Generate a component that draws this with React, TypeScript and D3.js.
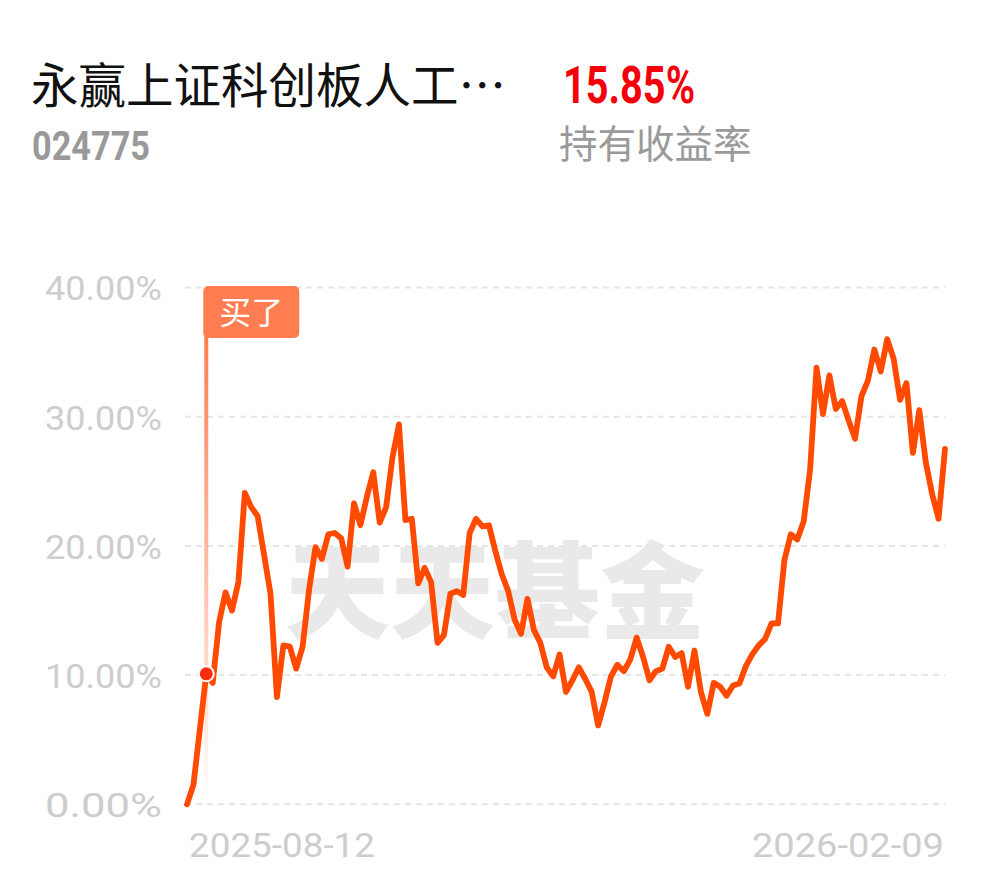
import React from "react";
import * as d3 from "d3";

const fundName = "永赢上证科创板人工…";
const fundCode = "024775";
const holdReturn = "15.85%";
const holdReturnLabel = "持有收益率";
const buyLabel = "买了";
const watermark = "天天基金";

const xTickLabels = ["2025-08-12", "2026-02-09"];
const yTicks = [0, 10, 20, 30, 40];

// daily holding return (%) — trading days from 2025-08-12 to 2026-02-09
const returns = [
  0.0, 1.5, 5.8, 10.1, 9.4, 14.1, 16.4, 15.0, 17.2, 24.1,
  23.0, 22.3, 19.3, 16.3, 8.3, 12.3, 12.2, 10.5, 12.2, 16.6,
  19.9, 19.0, 20.9, 21.0, 20.6, 18.4, 23.3, 21.6, 23.8, 25.7,
  21.8, 23.0, 26.9, 29.4, 22.0, 22.1, 17.1, 18.3, 17.2, 12.5,
  13.1, 16.3, 16.5, 16.2, 21.0, 22.1, 21.5, 21.6, 19.6, 17.8,
  16.5, 14.3, 13.2, 15.9, 13.5, 12.5, 10.6, 9.9, 11.6, 8.7,
  9.6, 10.6, 9.7, 8.7, 6.1, 7.9, 9.9, 10.8, 10.3, 11.2,
  12.9, 11.4, 9.6, 10.3, 10.5, 12.2, 11.4, 11.7, 9.1, 11.9,
  8.7, 7.0, 9.4, 9.1, 8.4, 9.2, 9.35, 10.7, 11.6, 12.3,
  12.8, 14.0, 14.0, 18.9, 20.9, 20.5, 21.9, 25.9, 33.8, 30.2,
  33.2, 30.6, 31.2, 29.7, 28.3, 31.6, 32.8, 35.2, 33.5, 36.0,
  34.5, 31.3, 32.6, 27.2, 30.5, 26.5, 24.0, 22.1, 27.5,
];
const buyIndex = 3;

export default function App() {
  const W = 990;
  const H = 878;
  const x0 = 187;
  const x1 = 945;
  const x = d3.scaleLinear().domain([0, returns.length - 1]).range([x0, x1]);
  const y = d3.scaleLinear().domain([0, 40]).range([804.3, 287.5]);

  const line = d3
    .line<number>()
    .x((_, i) => x(i))
    .y((d) => y(d))
    .curve(d3.curveLinear);

  const bx = x(buyIndex);
  const by = y(returns[buyIndex]);
  const labelTop = 286;
  const labelH = 52;

  return (
    <svg
      width={W}
      height={H}
      style={{ position: "absolute", left: 0, top: 0, background: "#fff" }}
    >
      <defs>
        <linearGradient id="buyGrad" x1="0" y1="0" x2="0" y2="1">
          <stop offset="0%" stopColor="#ff7d4f" stopOpacity={1} />
          <stop offset="100%" stopColor="#ff7d4f" stopOpacity={0.02} />
        </linearGradient>
      </defs>

      {/* header */}
      <text
        x={31}
        y={103}
        fontFamily="'Noto Sans CJK SC', sans-serif"
        fontSize={47.5}
        fill="#111"
      >
        {fundName}
      </text>
      <text
        x={32}
        y={160}
        fontFamily="Roboto, sans-serif"
        fontWeight={700}
        fontSize={40}
        fill="#999"
        textLength={118}
        lengthAdjust="spacingAndGlyphs"
      >
        {fundCode}
      </text>
      <text
        x={563}
        y={103.3}
        fontFamily="Roboto, sans-serif"
        fontWeight={700}
        fontSize={51}
        fill="#f4000a"
        textLength={132}
        lengthAdjust="spacingAndGlyphs"
      >
        {holdReturn}
      </text>
      <text
        x={559}
        y={158}
        fontFamily="'Noto Sans CJK SC', sans-serif"
        fontSize={38.5}
        fill="#9a9a9a"
      >
        {holdReturnLabel}
      </text>

      {/* watermark */}
      <text
        x={495}
        y={630}
        textAnchor="middle"
        fontFamily="'Noto Sans CJK SC', sans-serif"
        fontWeight={900}
        fontSize={105}
        fill="#e9e9e9"
      >
        {watermark}
      </text>

      {/* grid + y labels */}
      {yTicks.map((t) => (
        <g key={t}>
          <line
            x1={185}
            x2={945}
            y1={y(t)}
            y2={y(t)}
            stroke="#e6e6e6"
            strokeWidth={2}
            strokeDasharray="6 5"
          />
          <text
            x={162}
            y={y(t) + 12.8}
            textAnchor="end"
            fontFamily="Roboto, sans-serif"
            fontSize={33}
            fill="#cdcdcd"
            textLength={117}
            lengthAdjust="spacingAndGlyphs"
          >
            {t.toFixed(2) + "%"}
          </text>
        </g>
      ))}

      {/* x labels */}
      <text
        x={189}
        y={857}
        fontFamily="Roboto, sans-serif"
        fontSize={34}
        fill="#cdcdcd"
        textLength={186}
        lengthAdjust="spacingAndGlyphs"
      >
        {xTickLabels[0]}
      </text>
      <text
        x={944}
        y={857}
        textAnchor="end"
        fontFamily="Roboto, sans-serif"
        fontSize={34}
        fill="#cdcdcd"
        textLength={192}
        lengthAdjust="spacingAndGlyphs"
      >
        {xTickLabels[1]}
      </text>

      {/* buy marker stem */}
      <rect
        x={bx - 2}
        y={labelTop + labelH - 4}
        width={4}
        height={796 - (labelTop + labelH - 4)}
        fill="url(#buyGrad)"
      />

      {/* series line */}
      <path
        d={line(returns) || ""}
        fill="none"
        stroke="#ff4a00"
        strokeWidth={5.8}
        strokeLinejoin="round"
        strokeLinecap="round"
      />

      {/* buy label */}
      <rect
        x={bx - 3}
        y={labelTop}
        width={96}
        height={labelH}
        rx={5}
        fill="#ff7d50"
      />
      <text
        x={bx - 3 + 48}
        y={labelTop + 38}
        textAnchor="middle"
        fontFamily="'Noto Sans CJK SC', sans-serif"
        fontSize={32}
        fill="#fff"
      >
        {buyLabel}
      </text>

      {/* buy point */}
      <circle cx={bx} cy={by} r={7.5} fill="#ff2d0a" stroke="#fff" strokeWidth={2} />
    </svg>
  );
}
